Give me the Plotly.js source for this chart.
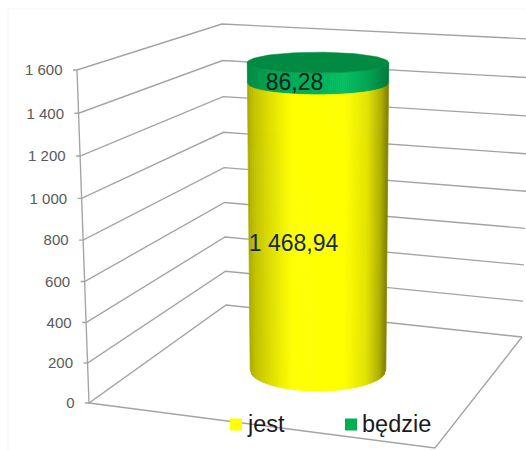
<!DOCTYPE html>
<html><head><meta charset="utf-8">
<script src="https://cdn.plot.ly/plotly-3.0.1.min.js"></script>
<style>html,body{margin:0;padding:0;background:#fff}#c{width:526px;height:450px}</style>
</head><body><div id="c"></div>
<script>
// ---- data ----
const tickValues = [0,200,400,600,800,1000,1200,1400,1600];
const tickLabels = ['0','200','400','600','800','1 000','1 200','1 400','1 600'];
const seriesNames = ['jest','będzie'];
const jest = 1468.94;
const bedzie = 86.28;
const valueLabels = ['1 468,94','86,28'];

// ---- 3-D box projection (page-pixel axes, value → screen) ----
const MAX = 1600;
const persp = (t,k)=>t/(t+(1-t)*k);
const edge = (fx,fy,tx,ty)=>v=>{const w=persp(v/MAX,1.045);return [fx+(tx-fx)*w, fy+(ty-fy)*w];};
const frontEdge = edge(89,403,77,70);
const backEdge  = edge(226,305,222,24);
const rightEdge = edge(522,337,530,39);
const floorFront = [435,448];
// cylinder
const CX=318, Y0=370, HC=318;
const cylW = v=>persp(v/MAX,1.2);
const cylY = v=>Y0-cylW(v)*HC;
const cylRx = v=>67.8+cylW(v)*3;
const cylRy = v=>21-cylW(v)*10.9;

const GRID='#a3a3a3', traces=[];
const addLine=(xs,ys,color,width)=>traces.push({type:'scatter',mode:'lines',x:xs,y:ys,hoverinfo:'skip',showlegend:false,line:{color,width,simplify:false}});

// faint chart frame
addLine([8,8,526],[450,9,9],'#f5f5f5',1);
// walls: gridlines
tickValues.forEach(v=>{
  const f=frontEdge(v),b=backEdge(v),r=rightEdge(v);
  addLine([f[0]-4,f[0],b[0],r[0]],[f[1],f[1],b[1],r[1]],GRID,1.35);
});
// vertical axis and floor
const f0=frontEdge(0),fT=frontEdge(MAX),r0=rightEdge(0);
addLine([fT[0],f0[0]],[fT[1],f0[1]],GRID,1.35);
addLine([f0[0],floorFront[0],r0[0]],[f0[1],floorFront[1],r0[1]],GRID,1.35);

// colour ramp across the cylinder
const hex=c=>[1,3,5].map(i=>parseInt(c.substr(i,2),16));
const ramp=(stops)=>s=>{
  for(let i=1;i<stops.length;i++) if(s<=stops[i][0]){
    const a=stops[i-1],b=stops[i],q=(s-a[0])/(b[0]-a[0]),A=hex(a[1]),B=hex(b[1]);
    return 'rgb('+A.map((c,j)=>Math.round(c+(B[j]-c)*q)).join(',')+')';
  }
  return stops[stops.length-1][1];
};
const yellowRamp=ramp([[0,'#a8a800'],[.04,'#c0c000'],[.15,'#dcdc00'],[.31,'#ffff00'],[.69,'#ffff00'],[.85,'#e4e400'],[.95,'#b0b000'],[1,'#7f7f00']]);
const greenRamp=ramp([[0,'#008a44'],[.15,'#00a04e'],[.5,'#00b25a'],[.68,'#00c060'],[.85,'#00a552'],[1,'#007a3c']]);

// one segment of the stacked cylinder, drawn as narrow shaded strips
const N=70;
function segment(v0,v1,colorAt){
  const lower=(v,u)=>[CX+u*cylRx(v), cylY(v)+cylRy(v)*Math.sqrt(Math.max(0,1-u*u))];
  for(let i=0;i<N;i++){
    const u0=-1+2*i/N,u1=-1+2*(i+1)/N;
    const a=lower(v0,u0),b=lower(v0,u1),c=lower(v1,u1),d=lower(v1,u0);
    const col=colorAt((i+.5)/N);
    traces.push({type:'scatter',mode:'lines',fill:'toself',fillcolor:col,hoverinfo:'skip',showlegend:false,
      x:[a[0],b[0],c[0],d[0],a[0]],y:[a[1],b[1],c[1],d[1],a[1]],line:{color:col,width:.8}});
  }
}
segment(0,jest,yellowRamp);
segment(jest,jest+bedzie,greenRamp);
// top face
const cylTop=jest+bedzie, ex=[],ey=[];
for(let a=0;a<=360;a+=4){ex.push(CX+cylRx(cylTop)*Math.cos(a*Math.PI/180));ey.push(cylY(cylTop)+cylRy(cylTop)*Math.sin(a*Math.PI/180));}
traces.push({type:'scatter',mode:'lines',fill:'toself',fillcolor:'#008a42',x:ex,y:ey,hoverinfo:'skip',showlegend:false,line:{color:'#008a42',width:.5}});

// tick labels
traces.push({type:'scatter',mode:'text',hoverinfo:'skip',showlegend:false,
  x:tickValues.map(v=>frontEdge(v)[0]-14.5),y:tickValues.map(v=>frontEdge(v)[1]+1.5),
  text:tickLabels,textposition:'middle left',textfont:{family:'Liberation Sans, Arial, sans-serif',size:15,color:'#595959'}});
// value labels
const labelColors=['#14285a','#06231c'];
traces.push({type:'scatter',mode:'text',hoverinfo:'skip',showlegend:false,
  x:[CX-24.5,CX-23.5],y:[cylY(jest/2)+7,cylY(jest+bedzie/2)+12],
  text:valueLabels,textposition:'middle center',textfont:{family:'Liberation Sans, Arial, sans-serif',size:23,color:labelColors}});
// legend
const legendColors=['#ffff00','#00b050'], legendX=[236,351], legendY=424.5, legendTextX=[248,362];
seriesNames.forEach((n,i)=>traces.push({type:'scatter',mode:'text',hoverinfo:'skip',showlegend:false,
  x:[legendTextX[i]],y:[legendY+1.5],text:[n],textposition:'middle right',
  textfont:{family:'Liberation Sans, Arial, sans-serif',size:23.5,color:'#1a1a1a'}}));
traces.push({type:'scatter',mode:'markers',hoverinfo:'skip',showlegend:false,x:legendX,y:[legendY,legendY],
  marker:{symbol:'square',size:12,color:legendColors}});

Plotly.newPlot('c',traces,{
  width:526,height:450,margin:{l:0,r:0,t:0,b:0},
  paper_bgcolor:'#fff',plot_bgcolor:'#fff',showlegend:false,
  xaxis:{range:[0,526],visible:false,fixedrange:true},
  yaxis:{range:[450,0],visible:false,fixedrange:true}
},{displayModeBar:false,staticPlot:true});
</script></body></html>
